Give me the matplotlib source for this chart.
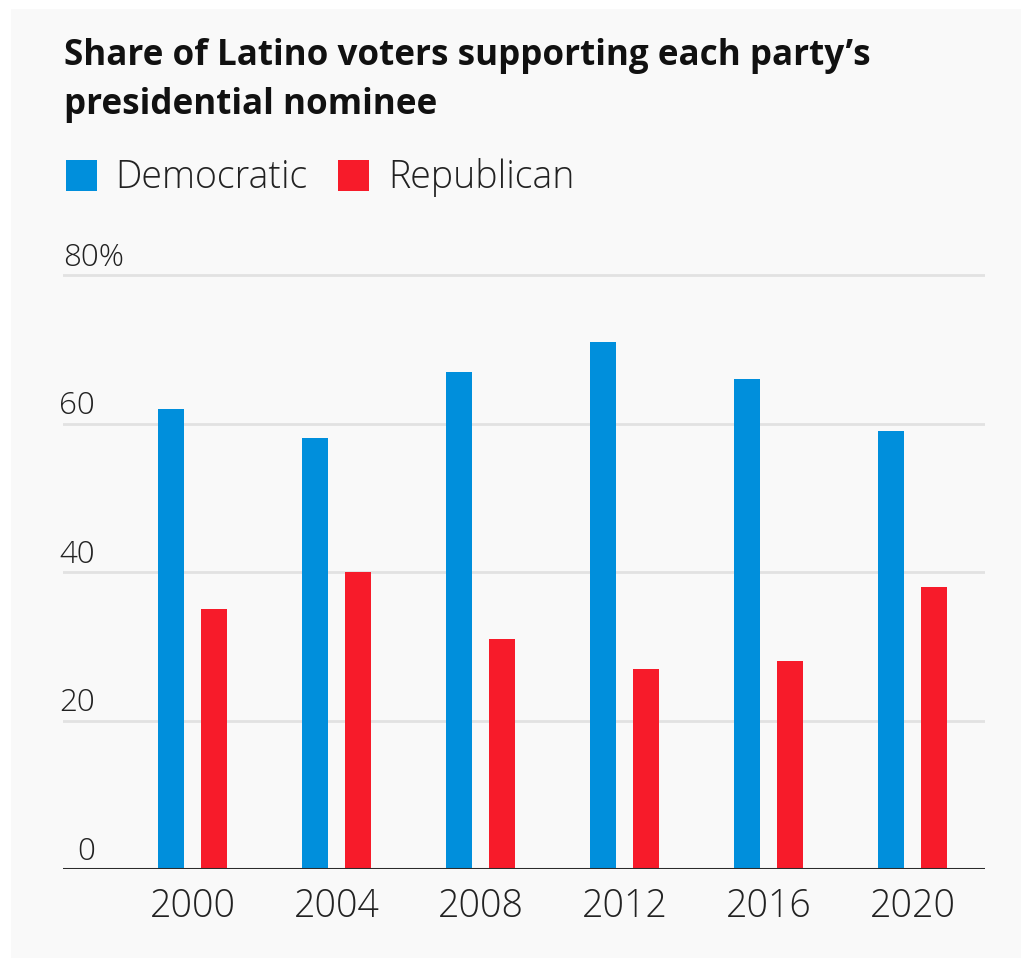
import numpy as np
import matplotlib.pyplot as plt
from matplotlib.patches import Rectangle
import matplotlib.transforms as mtransforms

# dados
years = ['2000', '2004', '2008', '2012', '2016', '2020']
democratic = [62, 58, 67, 71, 66, 59]
republican = [35, 40, 31, 27, 28, 38]
y_ticks = [0, 20, 40, 60, 80]
y_labels = ['0', '20', '40', '60', '80%']

blue = '#008fdc'
red = '#f71b2a'
light_font = ['Open Sans', 'DejaVu Sans']

W, H = 1021, 958
fig = plt.figure(figsize=(W / 100, H / 100), dpi=100)
fig.patch.set_facecolor('white')
fig.patches.append(Rectangle((11 / W, 0), 1, 1 - 9 / H, transform=fig.transFigure,
                             facecolor='#f9f9f9', edgecolor='none', zorder=-10))

# eixo: 0 em y=869px, 80 em y=275px
top_val = 84
px_per = (869 - 275) / 80
ax_top = 869 - top_val * px_per
ax = fig.add_axes([63 / W, (H - 869) / H, (985 - 63) / W, (869 - ax_top) / H])
ax.set_facecolor('none')

x = np.arange(len(years))
ax.bar(x - 0.149, democratic, width=0.18, color=blue, zorder=3)
ax.bar(x + 0.149, republican, width=0.18, color=red, zorder=3)

ax.set_xlim(-0.899, 5.503)
ax.set_ylim(0, top_val)
for s in ax.spines.values():
    s.set_visible(False)
ax.axhline(0, color='#2b2b2b', lw=2.2, zorder=4)
for v in y_ticks[1:]:
    ax.axhline(v, color='#e2e2e2', lw=2, zorder=1)

ax.set_yticks([])
ax.set_xticks(x)
ax.set_xticklabels(years, fontsize=27, color='#222222', family=light_font, fontweight='light')
ax.tick_params(axis='x', length=0, pad=13)

trans = mtransforms.blended_transform_factory(ax.transAxes, ax.transData)
for v, lab in zip(y_ticks, y_labels):
    if lab.endswith('%'):
        ax.annotate(lab, (0, v), xycoords=trans, xytext=(0, 1), textcoords='offset points',
                    ha='left', va='bottom', fontsize=22.5, color='#222222',
                    family=light_font, fontweight='light')
    else:
        ax.annotate(lab, ((95 - 63) / (985 - 63), v), xycoords=trans, xytext=(0, 1),
                    textcoords='offset points', ha='right', va='bottom', fontsize=22.5,
                    color='#222222', family=light_font, fontweight='light')

# titulo
fig.text(64 / W, 1 - 65 / H, 'Share of Latino voters supporting each party\u2019s',
         fontsize=25.2, fontweight='bold', color='#111111', family=['Open Sans', 'DejaVu Sans'],
         ha='left', va='baseline')
fig.text(64 / W, 1 - 114 / H, 'presidential nominee',
         fontsize=25.2, fontweight='bold', color='#111111', family=['Open Sans', 'DejaVu Sans'],
         ha='left', va='baseline')

# legenda
fig.patches.append(Rectangle((66 / W, 1 - 191 / H), 31 / W, 31 / H, transform=fig.transFigure,
                             facecolor=blue, edgecolor='none'))
fig.text(115 / W, 1 - 188 / H, 'Democratic', fontsize=27, color='#222222',
         family=light_font, fontweight='light', ha='left', va='baseline')
fig.patches.append(Rectangle((338 / W, 1 - 191 / H), 31 / W, 31 / H, transform=fig.transFigure,
                             facecolor=red, edgecolor='none'))
fig.text(388 / W, 1 - 188 / H, 'Republican', fontsize=27, color='#222222',
         family=light_font, fontweight='light', ha='left', va='baseline')

fig.savefig('out.png', dpi=100, facecolor=fig.get_facecolor())
